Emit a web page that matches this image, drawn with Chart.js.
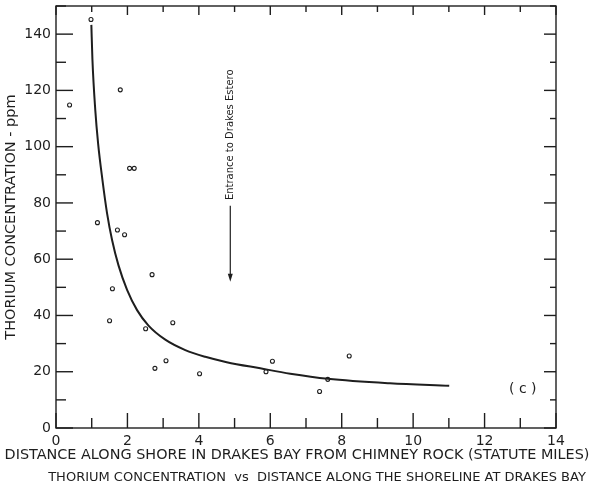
<!DOCTYPE html>
<html>
<head>
<meta charset="utf-8">
<script src="https://cdn.jsdelivr.net/npm/chart.js@4.4.1/dist/chart.umd.min.js"></script>
<style>
  html, body { margin: 0; padding: 0; background: #fff; }
</style>
</head>
<body>
<canvas id="chart" width="589" height="493"></canvas>
<script>
(function () {
    "use strict";

    // Sample points (distance in miles, thorium ppm)
    const sampleX = [0.38, 0.98, 1.16, 1.50, 1.58, 1.72, 1.80, 1.92, 2.06, 2.19, 2.51,
                     2.69, 2.77, 3.08, 3.27, 4.02, 5.88, 6.06, 7.38, 7.61, 8.21];
    const sampleY = [114.8, 145.2, 73.0, 38.1, 49.5, 70.4, 120.2, 68.7, 92.3, 92.3, 35.3,
                     54.5, 21.2, 23.9, 37.4, 19.3, 20.0, 23.7, 13.0, 17.3, 25.6];

    // Fitted curve
    const curveX = [0.99, 1.02, 1.10, 1.18, 1.30, 1.43, 1.57, 1.75, 1.99, 2.27, 2.59,
                    3.06, 3.62, 4.18, 4.78, 5.72, 6.56, 7.61, 9.35, 11.01];
    const curveY = [143.3, 131, 113, 101, 88.2, 76.3, 66.8, 57.8, 49.1, 41.9, 36.4,
                    31.4, 27.7, 25.3, 23.4, 21.2, 19.3, 17.5, 15.9, 15.0];

    // Annotations
    const estero = { x: 4.88, textFrom: 81, arrowFrom: 79, arrowTo: 52, label: "Entrance to Drakes Estero" };
    const panelTag = { x: 13.07, y: 13.9, label: "( c )" };

    const xTitle = "DISTANCE ALONG SHORE IN DRAKES BAY FROM CHIMNEY ROCK (STATUTE MILES)";
    const yTitle = "THORIUM CONCENTRATION - ppm";
    const caption = "THORIUM CONCENTRATION  vs  DISTANCE ALONG THE SHORELINE AT DRAKES BAY";

    const ink = "#1e1e1e";
    const face = "'DejaVu Sans', sans-serif";
    Chart.defaults.color = ink;
    Chart.defaults.font.family = face;

    const line = (ctx, x1, y1, x2, y2) => {
        ctx.beginPath();
        ctx.moveTo(x1, y1);
        ctx.lineTo(x2, y2);
        ctx.stroke();
    };

    // Frame, inward ticks, arrow and extra labels
    const frameTicks = {
        id: "frameTicks",
        afterDraw(chart) {
            const { ctx, chartArea: a, scales: { x, y } } = chart;
            ctx.save();
            ctx.strokeStyle = ink;
            ctx.fillStyle = ink;
            ctx.lineWidth = 1.4;
            ctx.strokeRect(a.left, a.top, a.right - a.left, a.bottom - a.top);

            x.ticks.forEach((t) => {
                const px = x.getPixelForValue(t.value);
                const major = t.value % 2 === 0;
                line(ctx, px, a.bottom, px, a.bottom - (major ? 15 : 10));
                line(ctx, px, a.top, px, a.top + (major ? 9 : 6));
            });
            y.ticks.forEach((t) => {
                const py = y.getPixelForValue(t.value);
                const major = t.value % 20 === 0;
                line(ctx, a.left, py, a.left + (major ? 17 : 10), py);
                line(ctx, a.right, py, a.right - (major ? 12 : 6), py);
            });

            // Arrow to the estero entrance
            const ax = x.getPixelForValue(estero.x);
            const ay1 = y.getPixelForValue(estero.arrowFrom);
            const ay2 = y.getPixelForValue(estero.arrowTo);
            ctx.lineWidth = 1.2;
            line(ctx, ax, ay1, ax, ay2 - 6);
            ctx.beginPath();
            ctx.moveTo(ax, ay2);
            ctx.lineTo(ax - 2.5, ay2 - 8);
            ctx.lineTo(ax + 2.5, ay2 - 8);
            ctx.closePath();
            ctx.fill();

            ctx.save();
            ctx.translate(ax, y.getPixelForValue(estero.textFrom));
            ctx.rotate(-Math.PI / 2);
            ctx.font = "10px " + face;
            ctx.textAlign = "left";
            ctx.textBaseline = "middle";
            ctx.fillText(estero.label, 0, 0);
            ctx.restore();

            ctx.font = "14px " + face;
            ctx.textAlign = "center";
            ctx.textBaseline = "middle";
            ctx.fillText(panelTag.label, x.getPixelForValue(panelTag.x), y.getPixelForValue(panelTag.y));

            // x axis title sits a little left of the axis centre in the figure
            ctx.font = "14.4px " + face;
            ctx.fillText(xTitle, 297, 455);

            ctx.font = "13px " + face;
            ctx.fillText(caption, 317, 478);
            ctx.restore();
        },
    };

    const ctx = document.getElementById("chart").getContext("2d");

    new Chart(ctx, {
        type: "scatter",
        data: {
            datasets: [
                {
                    label: "curve",
                    type: "line",
                    data: curveX.map((v, i) => ({ x: v, y: curveY[i] })),
                    borderColor: ink,
                    borderWidth: 2,
                    pointRadius: 0,
                    cubicInterpolationMode: "monotone",
                    fill: false,
                },
                {
                    label: "samples",
                    data: sampleX.map((v, i) => ({ x: v, y: sampleY[i] })),
                    pointRadius: 2,
                    pointBorderWidth: 1.1,
                    borderColor: ink,
                    backgroundColor: "#fff",
                },
            ],
        },
        options: {
            responsive: false,
            animation: false,
            layout: { padding: { top: 6, right: 33, left: 0, bottom: 0 } },
            plugins: {
                legend: { display: false },
                tooltip: { enabled: false },
            },
            scales: {
                x: {
                    type: "linear",
                    min: 0,
                    max: 14,
                    grid: { display: false, drawTicks: false },
                    border: { display: false },
                    ticks: {
                        stepSize: 1,
                        autoSkip: false,
                        maxRotation: 0,
                        padding: 5,
                        font: { size: 14 },
                        callback: (v) => (v % 2 === 0 ? String(v) : ""),
                    },
                    afterFit(s) {
                        s.height = 65;
                        s.paddingLeft = 0;
                        s.paddingRight = 0;
                    },
                },
                y: {
                    min: 0,
                    max: 150,
                    grid: { display: false, drawTicks: false },
                    border: { display: false },
                    ticks: {
                        stepSize: 10,
                        autoSkip: false,
                        padding: 5,
                        font: { size: 14 },
                        callback: (v) => (v % 20 === 0 ? String(v) : ""),
                    },
                    title: {
                        display: true,
                        text: yTitle,
                        font: { size: 14.5 },
                        padding: { top: 3, bottom: 0 },
                    },
                    afterFit(s) {
                        s.width = 56;
                        s.paddingTop = 0;
                        s.paddingBottom = 0;
                    },
                },
            },
        },
        plugins: [frameTicks],
    });
})();
</script>
</body>
</html>
